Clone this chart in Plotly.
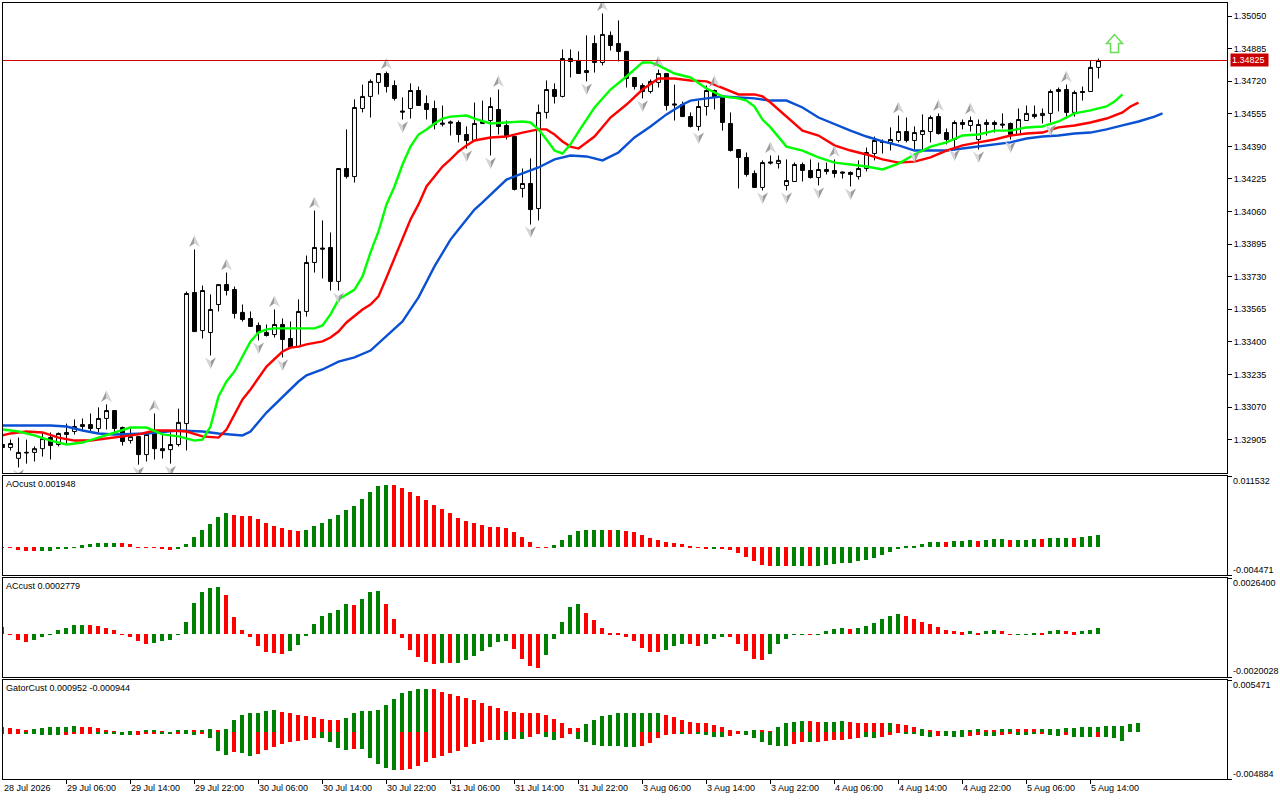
"""H1 chart with alligator lines, fractals and AO / AC / Gator panes (Plotly)."""
import plotly.graph_objects as go
from plotly.subplots import make_subplots

# prices are in points above 1.30000, indicators in points (1e-5)
opens = [2880, 2865, 2810, 2837, 2840, 2859, 2915, 2880, 2941, 2946,
         2971, 2981, 2961, 3012, 3052, 2966, 2900, 2920, 2829, 2941,
         2859, 2854, 2880, 2986, 3650, 3457, 3447, 3589, 3690, 3665,
         3549, 3518, 3483, 3447, 3437, 3488, 3417, 3376, 3554, 3802,
         3875, 3878, 3706, 4278, 4237, 4582, 4643, 4714, 4759, 4698,
         4569, 4582, 4673, 4607, 4582, 4508, 4514, 4511, 4450, 4420,
         4506, 4521, 4577, 4496, 4440, 4177, 4202, 4075, 4562, 4678,
         4643, 4835, 4825, 4764, 4911, 4815, 4952, 4911, 4871, 4739,
         4698, 4668, 4714, 4759, 4605, 4602, 4541, 4491, 4592, 4673,
         4638, 4506, 4374, 4334, 4253, 4182, 4311, 4303, 4192, 4212,
         4298, 4268, 4232, 4273, 4268, 4260, 4258, 4237, 4278, 4354,
         4412, 4410, 4420, 4465, 4420, 4450, 4465, 4541, 4460, 4425,
         4511, 4496, 4425, 4501, 4511, 4503, 4506, 4450, 4521, 4552,
         4546, 4557, 4668, 4678, 4562, 4668, 4668, 4790]
closes = [2865, 2885, 2840, 2840, 2859, 2910, 2875, 2936, 2931, 2971,
          2981, 2961, 3012, 3052, 2961, 2895, 2920, 2829, 2931, 2859,
          2849, 2880, 2992, 3645, 3452, 3660, 3564, 3690, 3660, 3544,
          3513, 3478, 3447, 3432, 3488, 3412, 3371, 3554, 3802, 3878,
          3870, 3706, 4278, 4237, 4587, 4643, 4719, 4759, 4693, 4633,
          4564, 4673, 4597, 4577, 4501, 4503, 4508, 4450, 4420, 4506,
          4516, 4592, 4491, 4445, 4172, 4202, 4070, 4562, 4678, 4643,
          4835, 4820, 4759, 4774, 4815, 4957, 4901, 4871, 4734, 4693,
          4668, 4719, 4759, 4597, 4600, 4541, 4491, 4592, 4673, 4638,
          4511, 4369, 4334, 4248, 4182, 4308, 4306, 4319, 4217, 4298,
          4268, 4232, 4273, 4263, 4253, 4255, 4248, 4278, 4359, 4420,
          4410, 4425, 4465, 4420, 4460, 4470, 4536, 4455, 4425, 4511,
          4501, 4521, 4501, 4511, 4501, 4498, 4450, 4526, 4557, 4541,
          4557, 4668, 4678, 4562, 4663, 4663, 4790, 4825]
highs = [2880, 2905, 2915, 2905, 2870, 2941, 2941, 2941, 2986, 3007,
         3012, 3037, 3068, 3083, 3052, 2971, 2961, 2920, 2941, 3037,
         2931, 2941, 3062, 3655, 3868, 3685, 3640, 3690, 3751, 3680,
         3589, 3554, 3498, 3488, 3564, 3518, 3503, 3615, 3837, 4065,
         4015, 3954, 4278, 4476, 4628, 4703, 4729, 4759, 4769, 4724,
         4638, 4709, 4693, 4648, 4622, 4597, 4521, 4521, 4491, 4612,
         4622, 4638, 4678, 4521, 4440, 4278, 4329, 4602, 4724, 4709,
         4881, 4881, 4871, 4952, 4952, 5063, 4972, 5028, 4871, 4739,
         4709, 4729, 4779, 4759, 4703, 4617, 4562, 4622, 4698, 4678,
         4643, 4562, 4374, 4359, 4268, 4319, 4344, 4344, 4324, 4308,
         4308, 4324, 4308, 4308, 4324, 4263, 4263, 4319, 4384, 4440,
         4425, 4486, 4546, 4536, 4491, 4552, 4546, 4557, 4481, 4521,
         4526, 4541, 4526, 4526, 4521, 4557, 4511, 4582, 4597, 4597,
         4582, 4678, 4688, 4703, 4673, 4693, 4825, 4835]
lows = [2865, 2850, 2764, 2783, 2794, 2819, 2804, 2870, 2885, 2931,
        2951, 2941, 2941, 2956, 2941, 2875, 2885, 2778, 2794, 2804,
        2809, 2783, 2870, 2850, 3452, 3417, 3331, 3554, 3635, 3518,
        3503, 3478, 3407, 3427, 3422, 3321, 3371, 3376, 3528, 3751,
        3721, 3660, 3660, 4227, 4207, 4562, 4536, 4653, 4663, 4622,
        4526, 4531, 4597, 4526, 4476, 4491, 4445, 4410, 4379, 4420,
        4506, 4344, 4450, 4425, 4167, 4131, 3994, 4015, 4531, 4607,
        4638, 4739, 4759, 4719, 4764, 4800, 4876, 4820, 4688, 4678,
        4633, 4658, 4688, 4572, 4521, 4541, 4486, 4470, 4546, 4577,
        4470, 4364, 4177, 4237, 4182, 4167, 4298, 4278, 4167, 4212,
        4212, 4227, 4192, 4248, 4232, 4227, 4187, 4222, 4263, 4319,
        4354, 4369, 4410, 4410, 4374, 4369, 4410, 4450, 4400, 4384,
        4476, 4465, 4374, 4445, 4460, 4481, 4425, 4450, 4521, 4531,
        4506, 4511, 4567, 4531, 4541, 4622, 4668, 4734]

green_x = [0, 2, 4, 6, 8, 10, 12, 14, 16, 18, 20, 22, 24, 25, 26, 27, 28, 29, 30, 31, 32, 33, 34, 37, 39, 40,
           41, 42, 44, 45, 46, 47, 48, 49, 50, 51, 52, 53, 54, 55, 56, 58, 59, 61, 63, 65, 66, 67, 68, 69, 70,
           71, 72, 74, 76, 78, 80, 81, 82, 84, 86, 88, 90, 92, 93, 94, 95, 96, 98, 100, 102, 104, 106, 108,
           110, 112, 114, 116, 118, 120, 122, 124, 126, 128, 130, 132, 134, 136, 138, 139, 140]
green_v = [2956, 2946, 2926, 2900, 2880, 2890, 2915, 2941, 2966, 2966, 2931, 2921, 2900, 2905, 2971, 3123, 3199,
           3250, 3326, 3402, 3447, 3463, 3468, 3468, 3468, 3483, 3539, 3614, 3665, 3731, 3853, 3959, 4096, 4187,
           4298, 4389, 4450, 4476, 4506, 4531, 4541, 4546, 4531, 4506, 4511, 4516, 4511, 4476, 4425, 4369, 4354,
           4400, 4465, 4587, 4678, 4744, 4815, 4815, 4800, 4759, 4739, 4683, 4643, 4633, 4622, 4592, 4526, 4486,
           4389, 4369, 4334, 4308, 4298, 4288, 4273, 4303, 4349, 4389, 4410, 4445, 4450, 4470, 4470, 4486, 4491,
           4516, 4557, 4572, 4592, 4617, 4653]
red_x = [0, 1, 3, 5, 7, 9, 11, 13, 15, 17, 19, 21, 23, 25, 27, 28, 30, 31, 33, 35, 36, 37, 38, 40, 41, 42, 43,
         44, 45, 46, 47, 48, 49, 50, 51, 52, 53, 54, 55, 56, 57, 58, 59, 61, 63, 65, 67, 68, 69, 70, 71, 72, 74,
         76, 78, 80, 82, 84, 86, 88, 90, 92, 94, 95, 96, 98, 100, 102, 104, 106, 108, 110, 112, 114, 116, 118,
         120, 122, 124, 126, 128, 130, 132, 134, 136, 138, 140, 141, 142]
red_v = [2926, 2936, 2946, 2941, 2915, 2900, 2900, 2910, 2921, 2931, 2951, 2951, 2946, 2921, 2915, 2956, 3108,
         3159, 3275, 3351, 3371, 3376, 3387, 3402, 3422, 3452, 3498, 3533, 3564, 3589, 3630, 3726, 3827, 3918,
         4020, 4096, 4187, 4237, 4288, 4324, 4364, 4395, 4420, 4435, 4440, 4460, 4476, 4476, 4450, 4415, 4389,
         4379, 4440, 4536, 4602, 4678, 4734, 4734, 4724, 4719, 4688, 4653, 4653, 4643, 4612, 4541, 4470, 4445,
         4395, 4369, 4349, 4324, 4308, 4313, 4334, 4369, 4395, 4410, 4425, 4445, 4455, 4460, 4486, 4496, 4511,
         4531, 4562, 4592, 4612]
blue_x = [0, 6, 8, 10, 12, 14, 18, 22, 25, 27, 30, 31, 33, 35, 37, 38, 40, 42, 44, 46, 48, 50, 51, 52, 54, 56,
          57, 59, 60, 61, 62, 63, 65, 67, 69, 71, 73, 75, 77, 79, 81, 83, 85, 86, 88, 90, 94, 96, 98, 100, 102,
          104, 106, 108, 110, 112, 114, 116, 118, 120, 122, 124, 126, 128, 130, 132, 134, 136, 138, 140, 142,
          144, 145]
blue_v = [2976, 2976, 2971, 2951, 2936, 2931, 2936, 2951, 2946, 2936, 2926, 2946, 3042, 3123, 3199, 3230, 3260,
          3300, 3321, 3356, 3432, 3503, 3564, 3625, 3782, 3918, 3969, 4070, 4106, 4146, 4182, 4222, 4253, 4283,
          4324, 4344, 4339, 4319, 4359, 4435, 4491, 4552, 4602, 4622, 4633, 4643, 4633, 4622, 4622, 4587, 4536,
          4501, 4470, 4440, 4415, 4395, 4369, 4369, 4369, 4379, 4389, 4400, 4410, 4430, 4440, 4445, 4455, 4460,
          4476, 4496, 4516, 4541, 4557]

frac_up = [13, 19, 24, 28, 34, 39, 48, 62, 75, 82, 89, 96, 104, 112, 117, 121, 133]
frac_dn = [2, 17, 21, 26, 32, 35, 42, 50, 58, 61, 66, 73, 80, 87, 95, 98, 102, 106, 114, 119, 122, 126, 131]

ao = [-3, -5, -48, -64, -64, -64, -64, -32, -11, -5, 32, 48, 64, 64, 64, 64, 48, 5, -5, -5, -27, -48, -32, 48,
      160, 288, 384, 496, 560, 528, 512, 512, 464, 400, 352, 320, 288, 272, 288, 352, 400, 464, 528, 608, 672,
      784, 896, 992, 1008, 1008, 960, 896, 832, 768, 688, 624, 560, 480, 432, 400, 368, 336, 336, 320, 256, 160,
      80, -5, -5, 32, 112, 192, 272, 288, 288, 288, 288, 288, 272, 240, 192, 144, 112, 80, 64, 48, 11, -5, -16,
      -27, -27, -48, -96, -160, -224, -288, -304, -304, -304, -304, -304, -304, -304, -288, -272, -256, -256,
      -224, -208, -176, -128, -80, -27, 11, 27, 59, 80, 80, 80, 96, 96, 112, 96, 112, 128, 128, 112, 112, 112,
      128, 128, 144, 144, 144, 144, 160, 176, 192]
ao_col = ("r" * 5 + "g" * 10 + "r" * 7 + "g" * 7 + "r" * 9 + "g" * 11 + "r" * 20 + "g" * 7 + "r" + "g" + "r" * 11
          + "g" + "r" * 7 + "g" + "r" + "g" * 2 + "r" + "g" * 16 + "r" + "g" * 3 + "r" + "g" * 3 + "r" + "g" * 3
          + "r" + "g" * 3 + "r" + "g" * 3)

ac = [32, -3, -26, -37, -26, -14, -3, 19, 28, 42, 42, 42, 37, 28, 19, -3, -14, -32, -46, -42, -32, -28, -3, 60,
      149, 200, 218, 223, 186, 79, 19, -14, -56, -84, -88, -93, -79, -51, -9, 46, 88, 102, 116, 144, 139, 167,
      200, 204, 144, 74, -19, -74, -107, -130, -139, -135, -135, -135, -121, -102, -79, -60, -37, -32, -70, -116,
      -149, -158, -97, -23, 60, 130, 144, 102, 65, 28, 2, 2, -14, -32, -65, -84, -84, -74, -56, -46, -46, -56,
      -46, -23, -14, -14, -46, -79, -116, -121, -93, -46, -23, -3, -2, -3, -3, 14, 23, 28, 23, 28, 37, 51, 70,
      88, 97, 88, 70, 60, 46, 32, 19, 14, 9, 14, 5, 14, 19, 14, -3, -3, -3, 3, 3, 14, 19, 14, 9, 14, 19, 28]
ac_col = ("r" * 4 + "g" * 7 + "r" * 8 + "g" * 9 + "r" * 8 + "g" * 8 + "r" + "g" * 3 + "r" * 7 + "g" + "r" + "g" * 7
          + "r" * 4 + "g" * 5 + "r" * 10 + "g" * 3 + "r" * 2 + "g" * 3 + "r" * 5 + "g" * 5 + "r" + "g" * 4 + "r"
          + "g" * 6 + "r" * 8 + "g" + "r" + "g" * 2 + "r" * 2 + "g" * 3 + "r" + "g" * 2 + "r" * 2 + "g" * 3)

gator_up = [59, 41, 31, 21, 31, 41, 52, 52, 52, 62, 52, 52, 41, 21, 10, 3, 10, 10, 21, 21, 10, 3, 21, 21, 21, 21,
            31, 21, 31, 124, 186, 207, 207, 228, 238, 217, 197, 176, 166, 155, 135, 124, 124, 145, 197, 228, 228,
            238, 290, 352, 414, 435, 455, 455, 455, 424, 404, 383, 362, 342, 307, 279, 259, 228, 217, 207, 197,
            197, 176, 135, 93, 41, 41, 83, 124, 166, 186, 197, 197, 197, 207, 207, 207, 186, 155, 124, 104, 93,
            93, 72, 52, 21, 10, 10, 21, 21, 10, 52, 93, 104, 114, 114, 104, 104, 104, 114, 104, 93, 93, 93, 93,
            93, 83, 72, 52, 31, 21, 10, 10, 10, 21, 21, 31, 21, 21, 31, 31, 31, 31, 31, 31, 31, 31, 41, 41, 52,
            52, 52, 62, 62, 62, 83, 95]
gator_up_col = ("r" * 4 + "g" * 6 + "r" * 5 + "g" * 2 + "r" + "g" * 2 + "r" + "g" * 3 + "r" + "g" * 2 + "r"
                + "g" * 7 + "r" * 8 + "g" * 11 + "r" * 19 + "g" * 10 + "r" * 10 + "g" * 2 + "r" * 2 + "g" * 4
                + "r" * 2 + "g" * 3 + "r" * 5 + "g" + "r" * 3 + "g" + "r" * 2 + "g" * 5 + "r" * 2 + "g" * 2
                + "r" * 3 + "g" * 13)
gator_dn = [21, 21, 10, 10, 21, 31, 31, 31, 31, 21, 10, 10, 21, 21, 21, 31, 31, 31, 10, 10, 10, 21, 10, 10, 31, 10,
            62, 197, 238, 207, 217, 248, 228, 186, 155, 124, 104, 93, 83, 62, 62, 104, 166, 186, 176, 176, 269,
            331, 373, 393, 393, 383, 352, 311, 269, 248, 217, 197, 155, 124, 97, 76, 76, 76, 66, 66, 52, 10, 52,
            83, 62, 21, 72, 104, 135, 145, 145, 145, 155, 155, 145, 114, 62, 31, 21, 21, 10, 10, 31, 52, 52, 41,
            21, 31, 62, 104, 135, 145, 145, 124, 104, 104, 104, 93, 83, 83, 72, 62, 52, 62, 52, 31, 3, 10, 21, 41,
            52, 41, 41, 52, 52, 41, 31, 41, 41, 31, 21, 31, 31, 21, 21, 31, 41, 31, 52, 52, 52, 52, 52, 62, 94]
gator_dn_col = ("g" + "r" * 2 + "g" * 5 + "r" * 4 + "g" * 5 + "r" * 3 + "g" * 2 + "r" + "g" * 2 + "r" + "g" * 3
                + "r" + "g" * 2 + "r" * 8 + "g" * 4 + "r" + "g" * 5 + "r" * 13 + "g" + "r" + "g" + "r" * 2
                + "g" * 2 + "r" * 2 + "g" * 8 + "r" * 5 + "g" + "r" + "g" * 4 + "r" * 2 + "g" * 6 + "r" * 2 + "g"
                + "r" * 6 + "g" * 2 + "r" * 3 + "g" * 4 + "r" + "g" * 3 + "r" * 2 + "g" * 2 + "r" * 2 + "g" * 3
                + "r" + "g" * 2 + "r" + "g" * 3 + "r" + "g" * 3)

price_ticks = [1.35050, 1.34885, 1.34720, 1.34555, 1.34390, 1.34225, 1.34060, 1.33895,
               1.33730, 1.33565, 1.33400, 1.33235, 1.33070, 1.32905]
time_labels = ["28 Jul 2026", "29 Jul 06:00", "29 Jul 14:00", "29 Jul 22:00", "30 Jul 06:00", "30 Jul 14:00",
               "30 Jul 22:00", "31 Jul 06:00", "31 Jul 14:00", "31 Jul 22:00", "3 Aug 06:00", "3 Aug 14:00",
               "3 Aug 22:00", "4 Aug 06:00", "4 Aug 14:00", "4 Aug 22:00", "5 Aug 06:00", "5 Aug 14:00"]
last_price = 1.34825

assert len(opens) == len(closes) == len(highs) == len(lows) == 138
assert len(green_x) == len(green_v) and len(red_x) == len(red_v) and len(blue_x) == len(blue_v)
assert len(ao) == len(ao_col) == len(ac) == len(ac_col) == 138
assert len(gator_up) == len(gator_up_col) == 143 and len(gator_dn) == len(gator_dn_col) == 141

W, H = 1280, 800
LEFT, RIGHT, TOP, BOTTOM = 3, 1227, 3, 779
FONT = "Liberation Sans"
FONT_SIZE = 9
GREEN, RED = "#008000", "#ff0000"

# fractal dart, two halves in pixels around the anchor (dark side, light side)
DART_UP = ("M 0 6 L -5.5 -5.5 L 0 -2 Z", "M 0 6 L 5.5 -5.5 L 0 -2 Z")
DART_DN = ("M 0 -6 L 5.5 5.5 L 0 2 Z", "M 0 -6 L -5.5 5.5 L 0 2 Z")


def price(points):
    return [1.3 + p * 1e-5 for p in points]


def scaled(points):
    return [p * 1e-5 for p in points]


def colors(codes):
    return [GREEN if c == "g" else RED for c in codes]


def domain(y_top, y_bottom):
    return [(BOTTOM - y_bottom) / (BOTTOM - TOP), (BOTTOM - y_top) / (BOTTOM - TOP)]


def px_x(x):
    return (x - LEFT) / (RIGHT - LEFT)


def px_y(y):
    return (BOTTOM - y) / (BOTTOM - TOP)


bars = list(range(len(opens)))
fig = make_subplots(rows=4, cols=1)

fig.add_trace(go.Candlestick(
    x=bars, open=price(opens), high=price(highs), low=price(lows), close=price(closes),
    increasing=dict(line=dict(color="black", width=1), fillcolor="white"),
    decreasing=dict(line=dict(color="black", width=1), fillcolor="black"),
    whiskerwidth=0), row=1, col=1)
for xs, vals, col in [(blue_x, blue_v, "#0a50d2"), (red_x, red_v, "#ff0000"), (green_x, green_v, "#00ff00")]:
    fig.add_trace(go.Scatter(x=xs, y=price(vals), mode="lines", line=dict(color=col, width=2.4)), row=1, col=1)

fig.add_trace(go.Bar(x=bars, y=scaled(ao), width=0.5, marker=dict(color=colors(ao_col), line_width=0)), row=2, col=1)
fig.add_trace(go.Bar(x=bars, y=scaled(ac), width=0.5, marker=dict(color=colors(ac_col), line_width=0)), row=3, col=1)
fig.add_trace(go.Bar(x=list(range(len(gator_up))), y=scaled(gator_up), width=0.5,
                     marker=dict(color=colors(gator_up_col), line_width=0)), row=4, col=1)
fig.add_trace(go.Bar(x=list(range(len(gator_dn))), y=[-v for v in scaled(gator_dn)], width=0.5,
                     marker=dict(color=colors(gator_dn_col), line_width=0)), row=4, col=1)

panes = [(3, 473, [1.327357, 1.351162]), (476, 575, [-0.004471, 0.011532]),
         (578, 677, [-0.0020028, 0.0026400]), (680, 779, [-0.004884, 0.005471])]
for n, (y_top, y_bottom, rng) in enumerate(panes, start=1):
    fig.update_yaxes(row=n, col=1, domain=domain(y_top, y_bottom), range=rng, side="right", showgrid=False,
                     zeroline=False, showline=True, mirror=True, linecolor="black", linewidth=1,
                     ticks="outside", ticklen=4, tickcolor="black",
                     tickfont=dict(family=FONT, size=FONT_SIZE, color="black"),
                     tickmode="array", tickvals=price_ticks if n == 1 else rng,
                     ticktext=[f"{t:.5f}" for t in price_ticks] if n == 1 else None,
                     showticklabels=n == 1)
    # the candles sit half a pixel right of the indicator bars
    x_range = [0.0625, 153.0625] if n == 1 else [0.125, 153.125]
    fig.update_xaxes(row=n, col=1, range=x_range, showgrid=False, zeroline=False, showline=True,
                     mirror=True, linecolor="black", linewidth=1, rangeslider_visible=False,
                     tickmode="array", tickvals=[i * 8 for i in range(len(time_labels))],
                     ticks="outside" if n == 4 else "", ticklen=4, tickcolor="black", showticklabels=False)

for idx_list, gap, extreme, dart in [(frac_up, 40, highs, DART_UP), (frac_dn, -38, lows, DART_DN)]:
    for i in idx_list:
        for path, col in zip(dart, ("#9c9c9c", "#d2d6da")):
            fig.add_shape(type="path", xref="x", yref="y", xsizemode="pixel", ysizemode="pixel", xanchor=i,
                          yanchor=1.3 + (extreme[i] + gap) * 1e-5, path=path, fillcolor=col, line_width=0)

fig.add_shape(type="line", xref="paper", x0=0, x1=1, yref="y", y0=last_price, y1=last_price,
              line=dict(color="#d00000", width=1))
# hollow up arrow above the last bar, drawn in pixels around its anchor
fig.add_shape(type="path", xref="x", yref="y", xsizemode="pixel", ysizemode="pixel", xanchor=139, yanchor=1.34911,
              path="M 0 9 L -8 0 L -4 0 L -4 -9 L 4 -9 L 4 0 L 8 0 Z",
              line=dict(color="#66dd55", width=1.5), fillcolor="white")

notes = []
for i, label in enumerate(time_labels):
    notes.append(dict(text=label, x=px_x(max(2 + 8 * i * 8, 3)), y=px_y(788), xanchor="left"))
for text, py in [("0.011532", 481), ("-0.004471", 570), ("0.0026400", 583), ("-0.0020028", 671),
                 ("0.005471", 685), ("-0.004884", 774)]:
    notes.append(dict(text=text, x=px_x(1232), y=px_y(py), xanchor="left"))
for text, py in [("AOcust 0.001948", 484), ("ACcust 0.0002779", 586), ("GatorCust 0.000952 -0.000944", 688)]:
    notes.append(dict(text=text, x=px_x(5), y=px_y(py), xanchor="left"))
for note in notes:
    fig.add_annotation(xref="paper", yref="paper", yanchor="middle", showarrow=False, borderpad=0,
                       font=dict(family=FONT, size=FONT_SIZE, color="black"), **note)
fig.add_annotation(xref="paper", yref="y", x=px_x(1230), y=last_price, xanchor="left", yanchor="middle",
                   text="1.34825 ", showarrow=False, bgcolor="#c80000", borderpad=1,
                   font=dict(family=FONT, size=FONT_SIZE, color="white"))

fig.update_layout(width=W, height=H, margin=dict(l=LEFT, r=W - RIGHT, t=TOP, b=H - BOTTOM),
                  paper_bgcolor="white", plot_bgcolor="white", showlegend=False, barmode="overlay",
                  bargap=0, hovermode=False)

fig.write_html("out.html", config=dict(displayModeBar=False),
               post_script="document.body.style.margin='0';document.body.style.overflow='hidden';")
